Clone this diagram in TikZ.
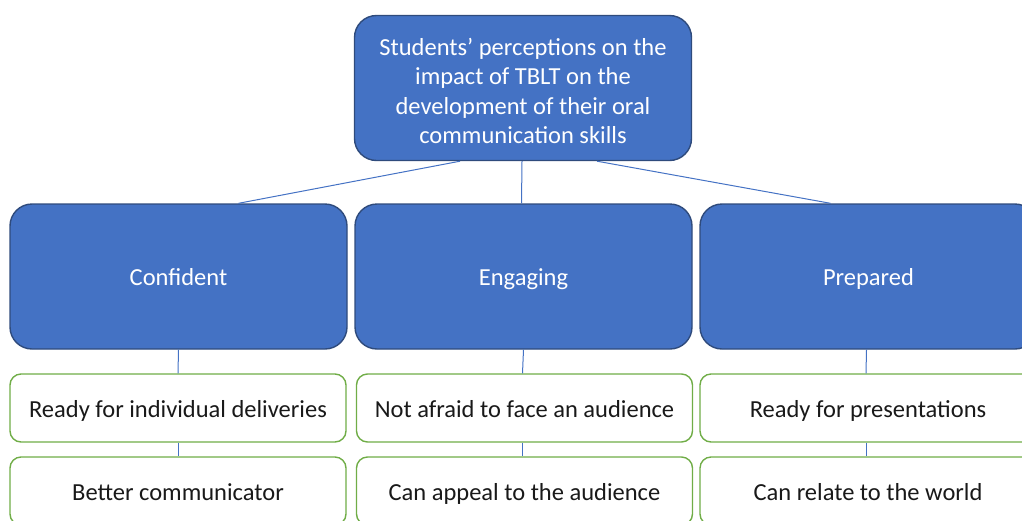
\documentclass[tikz,border=0pt]{standalone}
\usepackage{fontspec}
\setmainfont{Carlito}
\definecolor{bfill}{HTML}{4472C4}
\definecolor{bdraw}{HTML}{2F4B7C}
\definecolor{gdraw}{HTML}{70AD47}
\definecolor{lcol}{HTML}{4472C4}
\begin{document}
\begin{tikzpicture}[x=1pt,y=-1pt,
  every node/.style={font=\fontsize{24.5}{29.5}\selectfont},
  bluebox/.style={draw=bdraw,fill=bfill,line width=1.4pt,rounded corners=22pt,text=white,
    minimum width=337pt,minimum height=145pt,align=center,inner sep=0pt},
  greenbox/.style={draw=gdraw,fill=white,line width=1.4pt,rounded corners=11pt,text=black!90,
    minimum width=336pt,minimum height=68pt,align=center,inner sep=0pt,
    text height=20pt,text depth=2pt},
  single/.style={text height=20pt,text depth=2pt},
  conn/.style={draw=lcol,line width=1pt}]
\useasboundingbox (0,0) rectangle (1022,520);
\clip (0,0) rectangle (1022,520);
\node[bluebox] (top) at (523,88) {};
\node[text=white,align=center,inner sep=0pt] (toptext) at ([yshift=-3pt]top.center) {Students’ perceptions on the\\impact of TBLT on the\\development of their oral\\communication skills};
\node[bluebox,single] (c1) at (178.5,276.5) {Confident};
\node[bluebox,single] (c2) at (523.5,276.5) {Engaging};
\node[bluebox,single] (c3) at (868.5,276.5) {Prepared};
\node[greenbox] (a1) at (178,408) {Ready for individual deliveries};
\node[greenbox] (a2) at (524.5,408) {Not afraid to face an audience};
\node[greenbox] (a3) at (868,408) {Ready for presentations};
\node[greenbox] (b1) at (178,491) {Better communicator};
\node[greenbox] (b2) at (524.5,491) {Can appeal to the audience};
\node[greenbox] (b3) at (868,491) {Can relate to the world};
\draw[conn] ([xshift=-63pt]top.south) -- ([xshift=60pt]c1.north);
\draw[conn] ([xshift=-1pt]top.south) -- ([xshift=-2pt]c2.north);
\draw[conn] ([xshift=74pt]top.south) -- ([xshift=-38pt]c3.north);
\draw[conn] (c1.south) -- (a1.north);
\draw[conn] (c2.south) -- ([xshift=-2pt]a2.north);
\draw[conn] ([xshift=-2pt]c3.south) -- ([xshift=-2pt]a3.north);
\draw[conn] (a1.south) -- (b1.north);
\draw[conn] ([xshift=-2pt]a2.south) -- ([xshift=-2pt]b2.north);
\draw[conn] ([xshift=-2pt]a3.south) -- ([xshift=-2pt]b3.north);
\end{tikzpicture}
\end{document}
